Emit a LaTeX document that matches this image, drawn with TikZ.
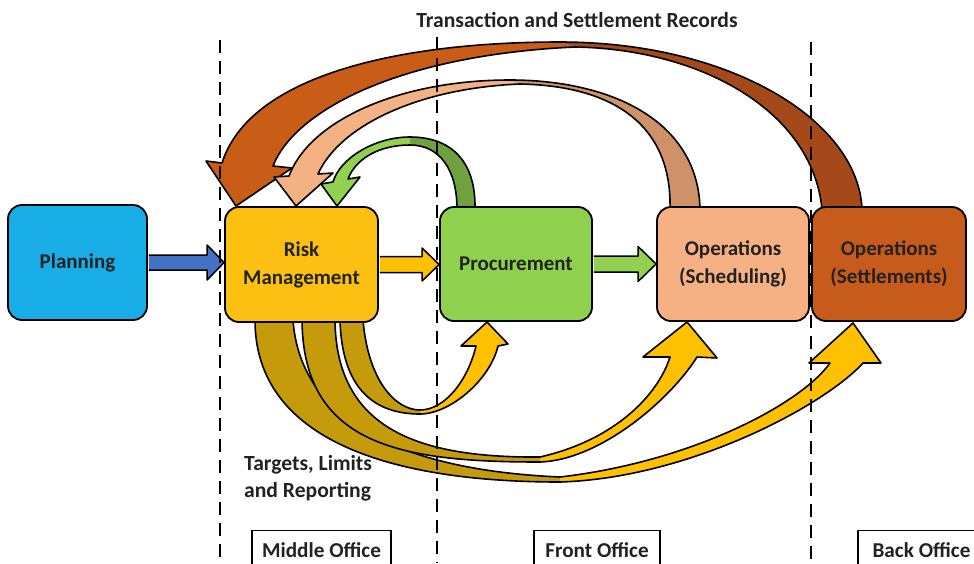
\documentclass[tikz,border=0pt]{standalone}
\usepackage{fontspec}
\setmainfont{Carlito}
\usetikzlibrary{calc}
\definecolor{planC}{HTML}{19ADE8}
\definecolor{riskC}{HTML}{FCC013}
\definecolor{procC}{HTML}{8FD14F}
\definecolor{schedC}{HTML}{F5B183}
\definecolor{settlC}{HTML}{C75B1C}
\definecolor{txtC}{HTML}{222222}
\definecolor{blueA}{HTML}{4472C4}
\definecolor{yelA}{HTML}{FFC000}
\definecolor{yelD}{HTML}{C59B0B}
\definecolor{grnA}{HTML}{92D050}
\definecolor{grnD}{HTML}{6FA13F}
\definecolor{orgA}{HTML}{C95C17}
\definecolor{orgD}{HTML}{A5491B}
\definecolor{pchA}{HTML}{F4B183}
\definecolor{pchD}{HTML}{CF9268}
\begin{document}
\begin{tikzpicture}[x=1pt,y=-1pt,
  box/.style={draw=black, line width=1.8pt, rounded corners=14pt,
    font=\bfseries\fontsize{21}{28}\selectfont, text=txtC, align=center, inner sep=0pt},
  blk/.style={draw=black, line width=1.5pt, line join=round},
  outl/.style={draw=black, line width=1.6pt, line join=round, line cap=round},
  divider/.style={draw=black, line width=2.6pt, dash pattern=on 13pt off 8pt},
  lbl/.style={font=\bfseries\fontsize{21.6}{27}\selectfont, text=txtC, inner sep=0pt},
  office/.style={draw=black, line width=1.3pt, font=\bfseries\fontsize{21.2}{27}\selectfont,
    text=txtC, inner sep=0pt}
]
\clip (0,0) rectangle (974,563);
\fill[white] (0,0) rectangle (974,563);

% ---------- bottom curved arrows (Risk -> others) ----------
% to Settlements
\fill[yelD] (255,320) .. controls (255,440) and (390,482) .. (560,482) -- (560,477)
  .. controls (400,470) and (300,420) .. (293,320) -- cycle;
\fill[yelA] (560,482) .. controls (690,478) and (825,405) .. (863,363) -- (881,363) -- (853,323)
  -- (809,363) -- (830,363) .. controls (800,405) and (690,462) .. (560,477) -- cycle;
\draw[outl] (255,320) .. controls (255,440) and (390,482) .. (560,482)
  .. controls (690,478) and (825,405) .. (863,363) -- (881,363) -- (853,323)
  -- (809,363) -- (830,363) .. controls (800,405) and (690,462) .. (560,477)
  .. controls (400,470) and (300,420) .. (293,320);
% to Scheduling
\fill[yelD] (302,320) .. controls (303,445) and (400,462) .. (540,462) -- (540,457)
  .. controls (420,458) and (336,430) .. (335,320) -- cycle;
\fill[yelA] (540,462) .. controls (600,460) and (670,400) .. (697,357) -- (717,358) -- (687,322)
  -- (643,357) -- (670,357) .. controls (658,395) and (615,440) .. (540,457) -- cycle;
\draw[outl] (302,320) .. controls (303,445) and (400,462) .. (540,462)
  .. controls (600,460) and (670,400) .. (697,357) -- (717,358) -- (687,322)
  -- (643,357) -- (670,357) .. controls (658,395) and (615,440) .. (540,457)
  .. controls (420,458) and (336,430) .. (335,320);
% to Procurement
\fill[yelD] (340,320) .. controls (342,390) and (375,414) .. (420,414) -- (420,410)
  .. controls (395,410) and (368,380) .. (363,320) -- cycle;
\fill[yelA] (420,414) .. controls (450,414) and (490,380) .. (498,346) -- (508,344) -- (487,322)
  -- (461,346) -- (476,346) .. controls (468,380) and (445,410) .. (420,410) -- cycle;
\draw[outl] (340,320) .. controls (342,390) and (375,414) .. (420,414)
  .. controls (450,414) and (490,380) .. (498,346) -- (508,344) -- (487,322)
  -- (461,346) -- (476,346) .. controls (468,380) and (445,410) .. (420,410)
  .. controls (395,410) and (368,380) .. (363,320);

% ---------- top curved arrows (back to Risk) ----------
% from Settlements
\fill[orgD] (862,209) .. controls (858,120) and (730,42) .. (560,42) -- (575,47)
  .. controls (700,49) and (812,110) .. (822,209) -- cycle;
\fill[orgA] (560,42) .. controls (400,42) and (250,75) .. (222,163) -- (206,161) -- (236,206)
  -- (292,168) -- (273,166) .. controls (295,110) and (400,55) .. (575,47) -- cycle;
\draw[outl] (862,209) .. controls (858,120) and (730,42) .. (560,42)
  .. controls (400,42) and (250,75) .. (222,163) -- (206,161) -- (236,206)
  -- (292,168) -- (273,166) .. controls (295,110) and (400,55) .. (575,47)
  .. controls (700,49) and (812,110) .. (822,209);
% from Scheduling
\fill[pchD] (700,209) .. controls (698,120) and (610,80) .. (510,80) -- (520,84)
  .. controls (620,86) and (672,130) .. (670,209) -- cycle;
\fill[pchA] (510,80) .. controls (400,80) and (310,120) .. (289,176) -- (274,177) -- (296,206)
  -- (333,173) -- (318,174) .. controls (340,125) and (420,88) .. (520,84) -- cycle;
\draw[outl] (700,209) .. controls (698,120) and (610,80) .. (510,80)
  .. controls (400,80) and (310,120) .. (289,176) -- (274,177) -- (296,206)
  -- (333,173) -- (318,174) .. controls (340,125) and (420,88) .. (520,84)
  .. controls (620,86) and (672,130) .. (670,209);
% from Procurement
\fill[grnD] (475,209) .. controls (476,160) and (450,137) .. (410,137) -- (410,145)
  .. controls (440,145) and (457,170) .. (457,209) -- cycle;
\fill[grnA] (410,137) .. controls (375,137) and (340,158) .. (333,182) -- (321,184) -- (337,206)
  -- (360,177) -- (348,179) .. controls (356,158) and (380,145) .. (410,145) -- cycle;
\draw[outl] (475,209) .. controls (476,160) and (450,137) .. (410,137)
  .. controls (375,137) and (340,158) .. (333,182) -- (321,184) -- (337,206)
  -- (360,177) -- (348,179) .. controls (356,158) and (380,145) .. (410,145)
  .. controls (440,145) and (457,170) .. (457,209);

% ---------- boxes ----------
\node[box, fill=planC,  minimum width=139pt, minimum height=115pt] (plan)  at (77.5,262.5) {Planning};
\node[box, fill=riskC,  minimum width=153pt, minimum height=115pt] (risk)  at (301.5,264.5) {Risk\\Management};
\node[box, fill=procC,  minimum width=152pt, minimum height=114pt] (proc)  at (516,264) {Procurement};
\node[box, fill=schedC, minimum width=152pt, minimum height=114pt] (sched) at (733,264) {Operations\\(Scheduling)};
\node[box, fill=settlC, minimum width=154pt, minimum height=114pt] (settl) at (889,264) {Operations\\(Settlements)};

% ---------- straight block arrows ----------
\coordinate (p1) at (risk.west |- plan.east);
\draw[blk, fill=blueA] ($(plan.east)+(0.9,-7.5)$) -- ($(p1)+(-17,-7.5)$) -- ($(p1)+(-17,-17.5)$)
  -- (p1) -- ($(p1)+(-17,17.5)$) -- ($(p1)+(-17,7.5)$) -- ($(plan.east)+(0.9,7.5)$);
\coordinate (p2) at (proc.west |- risk.east);
\draw[blk, fill=yelA] ($(risk.east)+(0.9,-8)$) -- ($(p2)+(-17,-8)$) -- ($(p2)+(-17,-16.5)$)
  -- (p2) -- ($(p2)+(-17,16.5)$) -- ($(p2)+(-17,8)$) -- ($(risk.east)+(0.9,8)$);
\coordinate (p3) at (sched.west |- proc.east);
\draw[blk, fill=grnA] ($(proc.east)+(0.9,-8)$) -- ($(p3)+(-18,-8)$) -- ($(p3)+(-18,-17.5)$)
  -- (p3) -- ($(p3)+(-18,17.5)$) -- ($(p3)+(-18,8)$) -- ($(proc.east)+(0.9,8)$);

% ---------- dividers ----------
\draw[divider] (220,40) -- (220,563);
\draw[divider] (437,37) -- (437,563);
\draw[divider] (811,42) -- (811,563);

% ---------- labels ----------
\node[lbl] (title) at (577,20) {Transaction and Settlement Records};
\node[lbl, align=left, anchor=west] (tlr) at (244,478.5) {Targets, Limits\\and Reporting};
\node[office, fill=white, minimum width=139pt, minimum height=38pt, anchor=north] (mid)   at (321.5,530) {Middle Office};
\node[office, fill=white, minimum width=126pt, minimum height=38pt, anchor=north] (front) at (597,530) {Front Office};
\node[office, fill=white, minimum width=127pt, minimum height=38pt, anchor=north] (back)  at (921.5,530) {Back Office};
\end{tikzpicture}
\end{document}
